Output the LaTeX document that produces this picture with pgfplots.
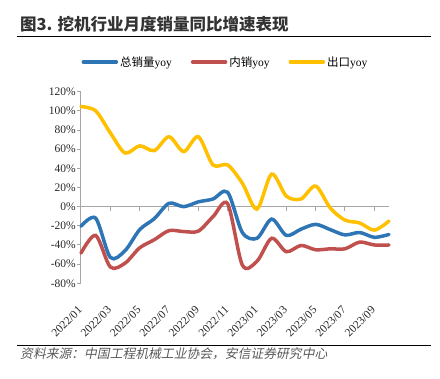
\documentclass[border=0pt]{standalone}
\usepackage{graphicx}
\usepackage{pgfplots}
\pgfplotsset{compat=1.18}
\usepackage{fontspec}
\setmainfont{Liberation Serif}
\newfontfamily\cjk{Noto Sans CJK SC}
\newfontfamily\cjkslant{Noto Sans CJK SC}[FakeSlant=0.2]
\definecolor{cblue}{HTML}{2E75B6}
\definecolor{cred}{HTML}{C0504D}
\definecolor{cyel}{HTML}{FFC000}
\definecolor{axgray}{HTML}{A6A6A6}
\newcommand{\rl}[1]{\rotatebox{45}{#1}}
\pgfplotstableread{
i tot dom exp
0 -20.5 -48.5 104.5
1 -12 -30 100
2 -53 -63 77
3 -46 -59 56
4 -24 -43 63.5
5 -12.5 -34.5 58.5
6 3.5 -25 73
7 0 -26 57.5
8 5 -25.5 73
9 8 -10.5 43.5
10 15 3 43.5
11 -27 -61 24.5
12 -33 -57 -2.5
13 -13 -33 34
14 -30 -47 11
15 -23.5 -40.5 8
16 -18.5 -45 21.5
17 -24 -44 -1.5
18 -29.5 -44 -14
19 -27 -37 -17
20 -32 -40 -24.5
21 -29 -40 -15
}\datatable
\begin{document}
\begin{tikzpicture}
\path[use as bounding box] (0pt,0pt) rectangle (440pt,-379pt);
\node[anchor=base west, font=\cjk\fontsize{16.5}{16.5}\selectfont\bfseries, text=black!80, inner sep=0] at (20pt,-31pt) {图3. 挖机行业月度销量同比增速表现};
\draw[line width=1.5pt] (17pt,-36.5pt) -- (431pt,-36.5pt);
\draw[line width=1.2pt] (17pt,-345.5pt) -- (431pt,-345.5pt);
\node[anchor=base west, font=\cjkslant\fontsize{12.8}{13}\selectfont, text=black!65, inner sep=0] at (20pt,-359pt) {资料来源：中国工程机械工业协会，安信证券研究中心};
\begin{axis}[
  at={(81pt,-206.66pt)}, anchor=origin,
  scale only axis, width=308pt, height=191.6pt,
  xmin=0, xmax=21, ymin=-80, ymax=120,
  axis lines*=left,
  x axis line style={draw=none},
  y axis line style={axgray, line width=1pt},
  xtick={0,2,...,20},
  xticklabels={\rl{2022/01},\rl{2022/03},\rl{2022/05},\rl{2022/07},\rl{2022/09},\rl{2022/11},\rl{2023/01},\rl{2023/03},\rl{2023/05},\rl{2023/07},\rl{2023/09}},
  xtick style={draw=none},
  ytick={-80,-60,...,120},
  ytick style={axgray, line width=1pt},
  tick align=outside, major tick length=4pt,
  yticklabel={\pgfmathprintnumber{\tick}\%},
  /pgf/number format/assume math mode=true,
  yticklabel style={font=\fontsize{11.5}{12}\selectfont, text=black!85, inner sep=1pt},
  xticklabel style={font=\fontsize{11.5}{12}\selectfont, text=black!85, anchor=north east, inner sep=0pt, xshift=2pt},
  xticklabel shift=18pt,
  legend columns=3,
  legend style={at={(0.469,1.155)}, anchor=center, draw=none, fill=none, font=\fontsize{11.5}{12}\selectfont, /tikz/every even column/.append style={column sep=17pt}},
  legend image code/.code={\draw (0pt,0pt) -- (33pt,0pt);},
  every axis plot/.append style={line width=3.5pt, line cap=round, smooth, tension=0.5},
  clip=false,
]
\draw[axgray, line width=1.5pt] (axis cs:0,0) -- (axis cs:21,0);
\pgfplotsinvokeforeach{2,4,6,8,10,12,14,16,18,20}{
  \draw[axgray, line width=1pt] (axis cs:#1,0) -- (axis cs:#1,-4.2);
}
\addplot[cblue] table[x=i, y=tot] {\datatable};
\addlegendentry{{\cjk 总销量}yoy}
\addplot[cred] table[x=i, y=dom] {\datatable};
\addlegendentry{{\cjk 内销}yoy}
\addplot[cyel] table[x=i, y=exp] {\datatable};
\addlegendentry{{\cjk 出口}yoy}
\end{axis}
\end{tikzpicture}
\end{document}
